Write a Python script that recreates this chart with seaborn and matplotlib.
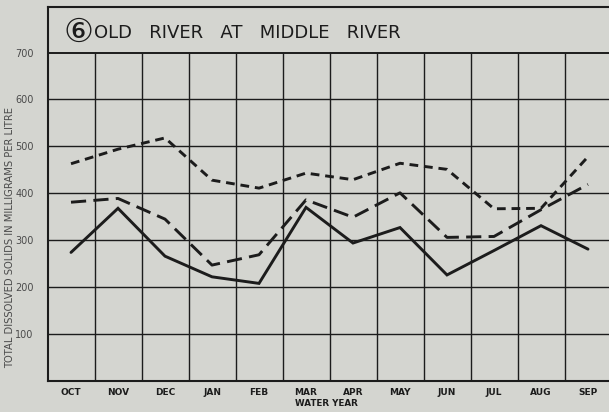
import numpy as np
import matplotlib
matplotlib.use("Agg")
import matplotlib.pyplot as plt
import seaborn as sns

# Monthly total dissolved solids (mg/L), water year Oct-Sep
months = ["OCT", "NOV", "DEC", "JAN", "FEB", "MAR",
          "APR", "MAY", "JUN", "JUL", "AUG", "SEP"]
tds_solid = [274, 368, 266, 222, 208, 370, 294, 327, 226, 278, 331, 281]
tds_long_dash = [381, 389, 345, 247, 269, 386, 349, 401, 306, 308, 365, 419]
tds_short_dash = [463, 494, 518, 428, 411, 443, 429, 464, 451, 367, 368, 478]
y_ticks = [100, 200, 300, 400, 500, 600, 700]

paper = "#d4d5d0"
ink = "#1c1c1c"
label_grey = "#4a4a4a"

sns.set_style("white", {"axes.facecolor": paper, "figure.facecolor": paper})
plt.rcParams["font.family"] = ["DejaVu Sans", "Noto Sans CJK JP"]

W, H = 609, 412
fig = plt.figure(figsize=(W / 100, H / 100), dpi=100)
# plotting frame: 12 monthly columns of 47 px, title band above the 700 line
ax = fig.add_axes([47.5 / W, 31 / H, 564 / W, 374 / H])
ax.set_facecolor(paper)

lw = 2.1
sns.lineplot(x=months, y=tds_solid, ax=ax, sort=False, color=ink,
             lw=lw, solid_joinstyle="miter")
sns.lineplot(x=months, y=tds_long_dash, ax=ax, sort=False, color=ink,
             lw=lw, linestyle=(0, (5.2, 2.5)))
sns.lineplot(x=months, y=tds_short_dash, ax=ax, sort=False, color=ink,
             lw=lw, linestyle=(0, (3.0, 2.0)))

ax.set_xlim(-0.5, 11.5)
ax.set_ylim(0, 797)

# grid: horizontal rules at each hundred, column dividers up to the 700 rule
for v in y_ticks[:-1]:
    ax.axhline(v, color=ink, lw=1.0, zorder=0)
ax.axhline(y_ticks[-1], color=ink, lw=1.4, zorder=0)
ax.vlines(np.arange(0.5, 11.5, 1.0), 0, y_ticks[-1], color=ink, lw=1.0, zorder=0)

for side in ["left", "bottom", "top"]:
    ax.spines[side].set_color(ink)
    ax.spines[side].set_linewidth(1.5)
ax.spines["right"].set_visible(False)

ax.set_yticks(y_ticks)
ax.set_yticklabels([str(v) for v in y_ticks], color=label_grey, fontsize=7)
ax.set_xticks(range(len(months)))
ax.set_xticklabels(months, fontsize=6.5, fontweight="bold", color=ink)
ax.tick_params(axis="both", length=0)
ax.tick_params(axis="y", pad=10)
ax.tick_params(axis="x", pad=5)
ax.set_xlabel("")
ax.set_ylabel("")

# station number in a circle, then the station name
fig.text(78 / W, 1 - 32.5 / H, "⑥", fontsize=24, color=ink,
         ha="center", va="center")
fig.text(94 / W, 1 - 38.5 / H, "OLD   RIVER   AT   MIDDLE   RIVER", fontsize=13,
         color=ink, va="baseline", ha="left")
fig.text(10 / W, 1 - 238 / H, "TOTAL DISSOLVED SOLIDS IN MILLIGRAMS PER LITRE",
         rotation=90, fontsize=7.2, color=label_grey, ha="center", va="center")
fig.text(326 / W, 1 - 404 / H, "WATER YEAR", fontsize=6.3, fontweight="bold",
         color=ink, ha="center", va="center")

fig.savefig("out.png", dpi=100, facecolor=paper)
